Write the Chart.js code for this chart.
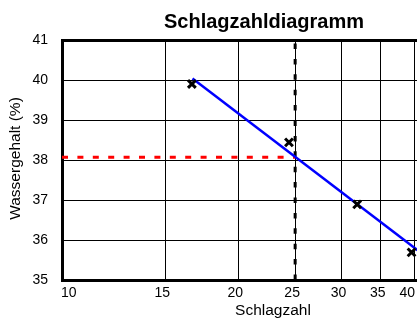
<!DOCTYPE html>
<html>
<head>
<meta charset="utf-8">
<script src="https://cdn.jsdelivr.net/npm/chart.js@4/dist/chart.umd.min.js"></script>
<style>
  html, body { margin: 0; padding: 0; background: #fff; }
  #wrap { width: 417px; height: 320px; overflow: hidden; position: relative; }
  canvas { display: block; }
</style>
</head>
<body>
<div id="wrap"><canvas id="c" width="490" height="320"></canvas></div>
<script>
// ---- data ----
const TITLE = 'Schlagzahldiagramm';
const X_TITLE = 'Schlagzahl';
const Y_TITLE = 'Wassergehalt (%)';
const X_TICKS = [10, 15, 20, 25, 30, 35, 40];
const Y_TICKS = [35, 36, 37, 38, 39, 40, 41];
const MEASURED_X = [16.66, 24.4, 31.9, 39.5];
const MEASURED_Y = [39.9, 38.44, 36.89, 35.69];
const FIT_X = [16.7, 42];
const FIT_Y = [40.04, 35.56];
const TARGET_X = [10, 25];
const TARGET_Y = [38.07, 38.07];
const MARK_X = [25, 25];
const MARK_Y = [35, 41];

const pts = (xs, ys) => xs.map((x, i) => ({ x: x, y: ys[i] }));
const FONT = "'Liberation Sans', Arial, sans-serif";
const VIEW_W = 417;

const textPlugin = {
  id: 'texts',
  afterDraw(chart) {
    const ctx = chart.ctx;
    const ca = chart.chartArea;
    const xs = chart.scales.x;
    ctx.save();
    ctx.fillStyle = '#000';
    // title
    ctx.font = 'bold 20px ' + FONT;
    ctx.textAlign = 'center';
    ctx.textBaseline = 'alphabetic';
    ctx.fillText(TITLE, 264, 28);
    // x tick labels
    ctx.font = '14px ' + FONT;
    ctx.textAlign = 'left';
    X_TICKS.forEach(v => {
      const label = String(v);
      const w = ctx.measureText(label).width;
      let left = xs.getPixelForValue(v) - 3 - w / 2;
      if (left < ca.left - 1) left = ca.left - 1;
      if (left + w > VIEW_W - 2) left = VIEW_W - 2 - w;
      ctx.fillText(label, left, 297);
    });
    // x title
    ctx.font = '15.5px ' + FONT;
    ctx.textAlign = 'center';
    ctx.fillText(X_TITLE, 273, 314.5);
    // y title
    ctx.translate(16, 158.5);
    ctx.rotate(-Math.PI / 2);
    ctx.textBaseline = 'middle';
    ctx.fillText(Y_TITLE, 0, 0);
    ctx.restore();
  }
};

new Chart(document.getElementById('c'), {
  type: 'scatter',
  data: {
    datasets: [
      {
        label: 'Messwerte',
        data: pts(MEASURED_X, MEASURED_Y),
        pointStyle: 'crossRot',
        pointRadius: 5.5,
        pointBorderWidth: 3,
        borderColor: '#000',
        backgroundColor: '#000',
        showLine: false,
        order: 0
      },
      {
        label: 'Ausgleich',
        data: pts(FIT_X, FIT_Y),
        showLine: true,
        borderColor: '#0000ff',
        borderWidth: 2.5,
        pointRadius: 0,
        order: 1
      },
      {
        label: 'Wassergehalt bei 25',
        data: pts(TARGET_X, TARGET_Y),
        showLine: true,
        borderColor: '#ff0000',
        borderWidth: 3,
        borderDash: [6, 9.4],
        pointRadius: 0,
        order: 2
      },
      {
        label: '25 Schläge',
        data: pts(MARK_X, MARK_Y),
        showLine: true,
        borderColor: '#000',
        borderWidth: 3,
        borderDash: [5.5, 9.9],
        pointRadius: 0,
        order: 2
      }
    ]
  },
  options: {
    responsive: false,
    animation: false,
    devicePixelRatio: 1,
    layout: { padding: { left: 0, top: 40, right: 5.6, bottom: 40 } },
    plugins: {
      legend: { display: false },
      title: { display: false },
      tooltip: { enabled: false }
    },
    scales: {
      x: {
        type: 'logarithmic',
        min: 10,
        max: 52,
        afterBuildTicks: s => { s.ticks = X_TICKS.map(v => ({ value: v })); },
        afterFit: s => { s.height = 0; },
        ticks: { display: false },
        grid: { color: '#000', lineWidth: 1, drawTicks: false },
        border: { display: true, color: '#000', width: 3 }
      },
      y: {
        min: 35,
        max: 41,
        afterBuildTicks: s => { s.ticks = Y_TICKS.map(v => ({ value: v })); },
        afterFit: s => { s.width = 62; },
        ticks: { color: '#000', font: { family: FONT, size: 14 }, padding: 14 },
        grid: {
          color: '#000',
          lineWidth: c => (c.tick && c.tick.value === 41 ? 3 : 1),
          drawTicks: false
        },
        border: { display: true, color: '#000', width: 3 }
      }
    }
  },
  plugins: [textPlugin]
});
</script>
</body>
</html>
